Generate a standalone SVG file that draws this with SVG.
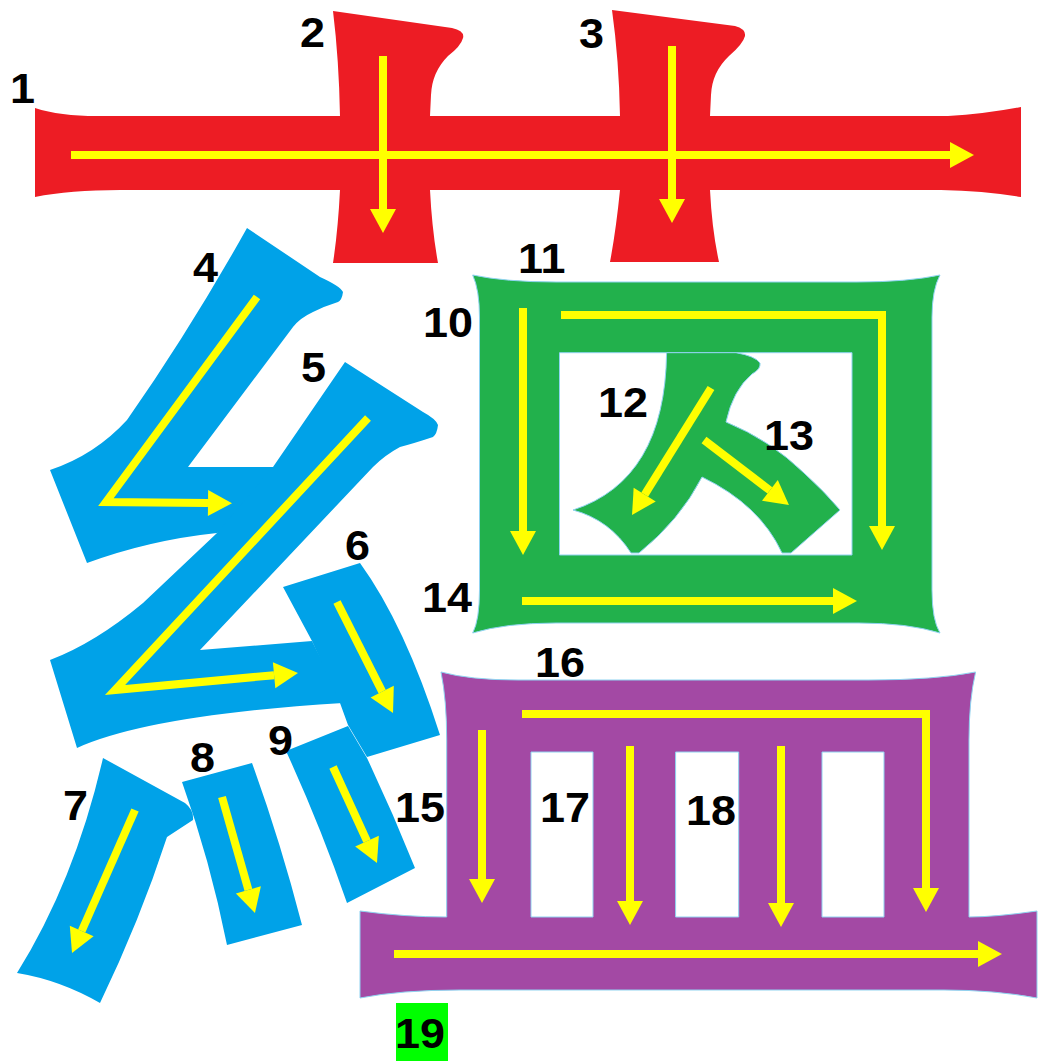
<svg xmlns="http://www.w3.org/2000/svg" width="1038" height="1061" viewBox="0 0 1038 1061">
<defs>
<style>
.red{fill:#ED1C24}
.blue{fill:#00A2E8}
.green{fill:#22B14C;stroke:#8fd3f0;stroke-width:1}
.purple{fill:#A349A4;stroke:#8fd3f0;stroke-width:1}
.arr{fill:none;stroke:#FFFF00;stroke-width:8;stroke-linejoin:miter;stroke-linecap:butt;marker-end:url(#ah)}
.lbl{font-family:"Liberation Sans",Arial,sans-serif;font-weight:bold;font-size:42px;fill:#000}
</style>
<marker id="ah" markerUnits="userSpaceOnUse" markerWidth="24" markerHeight="26" viewBox="0 0 24 26" refX="0" refY="13" orient="auto" overflow="visible">
<path d="M0,0 L24,13 L0,26 Z" fill="#FFFF00"/>
</marker>
</defs>
<rect width="1038" height="1061" fill="#FFFFFF"/>

<g id="stroke1">
<path class="red" d="M35,108 Q60,116 97,116 L948,116 Q985,114 1021,107 L1021,197 Q985,191 941,190 L120,190 Q70,190 35,197 Z"/>
</g>
<g id="stroke2">
<path class="red" d="M333,11 L452,28 Q465,31 463,38 Q461,46 448,56 Q432,72 431,95 L430,116 L430,190 Q432,230 438,263 L333,263 Q338,230 340,190 L340,116 Q339,60 333,11 Z"/>
</g>
<g id="stroke3">
<path class="red" d="M612,10 L735,26 Q746,29 745,36 Q743,44 729,56 Q712,72 711,95 L710,116 L710,190 Q712,230 719,262 L610,262 Q616,230 620,190 L620,116 Q619,60 612,10 Z"/>
</g>

<g id="stroke4">
<path class="blue" d="M247,228 L320,277 Q340,286 343,292 Q342,300 338,302 Q325,306 313,312 Q300,318 293,327 L188,467 L280,467 L250,520 L217,533 Q150,540 87,563 L50,470 Q95,455 127,420 Q190,330 247,228 Z"/>
</g>
<g id="stroke5">
<path class="blue" d="M345,362 L423,412 Q436,419 438,425 Q437,434 433,437 Q415,443 400,447 Q385,455 373,467 L200,650 L312,641 L343,703 Q150,715 77,748 L50,660 Q95,643 143,603 L217,533 L273,467 Z"/>
</g>
<g id="stroke6">
<path class="blue" d="M283,587 L360,563 Q405,625 440,735 L367,757 L348,725 L340,703 L312,641 Z"/>
</g>
<g id="stroke7">
<path class="blue" d="M103,758 L185,803 Q194,810 193,820 L167,837 Q140,920 100,1003 Q60,980 17,973 Q75,880 103,758 Z"/>
</g>
<g id="stroke8">
<path class="blue" d="M182,782 L252,763 Q280,840 302,925 L227,945 Q210,860 182,782 Z"/>
</g>
<g id="stroke9">
<path class="blue" d="M286,751 L348,726 L367,758 Q393,813 415,868 L347,903 Q320,825 286,751 Z"/>
</g>

<g id="stroke10-11-14">
<path class="green" fill-rule="evenodd" d="M472.7,275 Q505,282 556,282 L857,282 Q908,282 940,275 Q932,290 932,317 L932,590 Q932,620 940,633 Q908,623 859,623 L556,623 Q505,623 472.7,633 Q479.5,620 479.5,590 L479.5,317 Q479.5,290 472.7,275 Z M559.5,352.7 L559.5,555 L852,555 L852,352.7 Z"/>
</g>
<g id="stroke12-13">
<path class="green" d="M666.6,352.7 L736,352.7 Q755,356 760,363 Q761,369 752,374 Q733,390 726,422 Q770,440 804,473 Q825,492 840,510 L791,553 L782,553 Q760,505 702,477 Q680,520 639,553 L631,553 Q610,520 573,510 Q665,480 666.6,352.7 Z"/>
</g>

<g id="stroke15-19">
<path class="purple" fill-rule="evenodd" d="M441,672 Q470,680 518,680 L869,680 Q935,680 975.6,672 Q969,700 969,740 L969,917 Q995,917 1037,911 L1037,998 Q995,990 944,990 L460,990 Q400,990 360,998 L360,911 Q405,917 446.7,917 L446.7,740 Q446.7,700 441,672 Z M531,752 L531,917 L593,917 L593,752 Z M675.6,752 L675.6,917 L738.7,917 L738.7,752 Z M822,752 L822,917 L884,917 L884,752 Z"/>
</g>

<g id="label19bg">
<rect x="396" y="1003" width="52" height="58" fill="#00FF00"/>
</g>

<g id="arrows">
<path class="arr" d="M71,155 L950,155"/>
<path class="arr" d="M383,56 L383,209"/>
<path class="arr" d="M672,46 L672,199"/>
<path class="arr" d="M257,297 L106,502 L208,503"/>
<path class="arr" d="M368,418 L115,690 L274.1,675.2"/>
<path class="arr" d="M337,602 L382.2,691.6"/>
<path class="arr" d="M135,810 L81.7,931"/>
<path class="arr" d="M222,797 L248.4,889.9"/>
<path class="arr" d="M333,767 L367,841.2"/>
<path class="arr" d="M523,308 L523,531"/>
<path class="arr" d="M561,315 L882,315 L882,526"/>
<path class="arr" d="M711,388 L644.7,494.6"/>
<path class="arr" d="M704,440 L769.9,490.4"/>
<path class="arr" d="M522,601 L833,601"/>
<path class="arr" d="M482,730 L482,879"/>
<path class="arr" d="M522,714 L926,714 L926,888"/>
<path class="arr" d="M630,746 L630,901"/>
<path class="arr" d="M781,746 L781,903"/>
<path class="arr" d="M394,954 L978,954"/>
</g>

<g id="labels">
<text class="lbl" transform="translate(10,103) scale(1.07,1)">1</text>
<text class="lbl" transform="translate(300,47) scale(1.07,1)">2</text>
<text class="lbl" transform="translate(579,48) scale(1.07,1)">3</text>
<text class="lbl" transform="translate(193,282) scale(1.07,1)">4</text>
<text class="lbl" transform="translate(301,382) scale(1.07,1)">5</text>
<text class="lbl" transform="translate(345,560) scale(1.07,1)">6</text>
<text class="lbl" transform="translate(63,820) scale(1.07,1)">7</text>
<text class="lbl" transform="translate(190,772) scale(1.07,1)">8</text>
<text class="lbl" transform="translate(268,755) scale(1.07,1)">9</text>
<text class="lbl" transform="translate(423,337) scale(1.07,1)">10</text>
<text class="lbl" transform="translate(518,273) scale(1.07,1)">11</text>
<text class="lbl" transform="translate(598,417) scale(1.07,1)">12</text>
<text class="lbl" transform="translate(764,450) scale(1.07,1)">13</text>
<text class="lbl" transform="translate(422,612) scale(1.07,1)">14</text>
<text class="lbl" transform="translate(395,822) scale(1.07,1)">15</text>
<text class="lbl" transform="translate(535,677) scale(1.07,1)">16</text>
<text class="lbl" transform="translate(540,822) scale(1.07,1)">17</text>
<text class="lbl" transform="translate(686,825) scale(1.07,1)">18</text>
<text class="lbl" transform="translate(395,1048) scale(1.07,1)">19</text>
</g>
</svg>
